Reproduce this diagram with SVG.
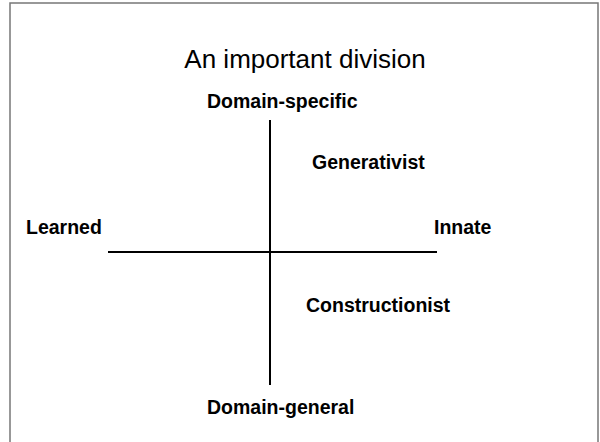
<svg xmlns="http://www.w3.org/2000/svg" width="600" height="442" viewBox="0 0 600 442">
<style>
.lbl{font-family:"Liberation Sans",Arial,sans-serif;font-weight:bold;font-size:19.5px;fill:#000}
.title{font-family:"Liberation Sans",Arial,sans-serif;font-size:26px;fill:#000}
.axis{stroke:#000;stroke-width:2;fill:none}
</style>
<rect width="600" height="442" fill="#fff"/>
<path d="M10,442 V3 H598 V442" fill="none" stroke="#777" stroke-width="1.5"/>
<text class="title" x="305" y="68" text-anchor="middle">An important division</text>
<g id="connectors">
<line class="axis" x1="108" y1="252" x2="437" y2="252"/>
<line class="axis" x1="270" y1="120" x2="270" y2="385"/>
</g>
<g id="domain-specific"><text class="lbl" x="207" y="108">Domain-specific</text></g>
<g id="generativist"><text class="lbl" x="312" y="169">Generativist</text></g>
<g id="learned"><text class="lbl" x="26" y="234">Learned</text></g>
<g id="innate"><text class="lbl" x="434" y="234">Innate</text></g>
<g id="constructionist"><text class="lbl" x="306" y="312">Constructionist</text></g>
<g id="domain-general"><text class="lbl" x="207" y="414">Domain-general</text></g>
</svg>
